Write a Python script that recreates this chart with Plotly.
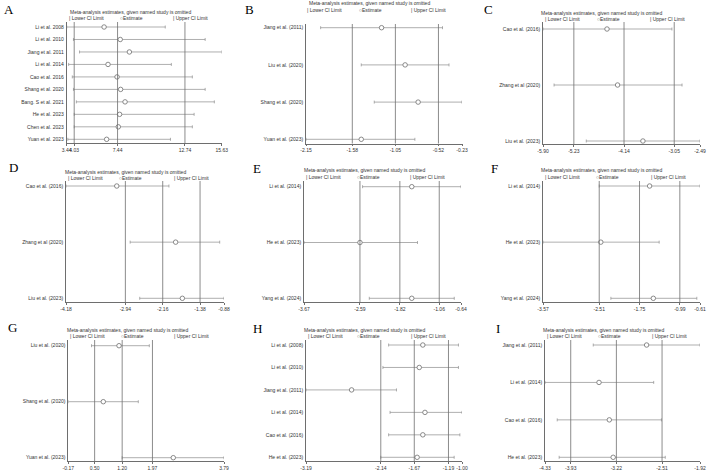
import plotly.graph_objects as go

W, H = 708, 470

# ---------------- data ----------------
A_studies = ["Li et al. 2008", "Li et al. 2010", "Jiang et al. 2011", "Li et al. 2014", "Cao et al. 2016",
             "Shang et al. 2020", "Bang. S et al. 2021", "He et al. 2023", "Chen et al. 2023", "Yuan et al. 2023"]
A_lower = [3.44, 3.97, 4.45, 3.59, 3.88, 3.97, 4.20, 4.03, 4.03, 3.53]
A_est = [6.38, 7.65, 8.37, 6.69, 7.40, 7.68, 8.03, 7.60, 7.50, 6.58]
A_upper = [11.19, 14.33, 15.63, 11.67, 13.32, 14.33, 15.05, 13.46, 13.32, 11.60]
A_pooled = [4.03, 7.44, 12.74]

B_studies = ["Jiang et al. (2011)", "Liu et al. (2020)", "Shang et al. (2020)", "Yuan et al. (2023)"]
B_lower = [-1.97, -1.47, -1.31, -2.15]
B_est = [-1.22, -0.93, -0.77, -1.47]
B_upper = [-0.47, -0.39, -0.23, -0.81]
B_pooled = [-1.58, -1.05, -0.52]

C_studies = ["Cao et al. (2016)", "Zhang et al (2020)", "Liu et al. (2023)"]
C_lower = [-5.90, -5.66, -4.96]
C_est = [-4.51, -4.28, -3.73]
C_upper = [-3.10, -2.88, -2.49]
C_pooled = [-5.23, -4.14, -3.05]

D_studies = ["Cao et al. (2016)", "Zhang et al (2020)", "Liu et al. (2023)"]
D_lower = [-4.18, -2.84, -2.64]
D_est = [-3.12, -1.89, -1.75]
D_upper = [-2.03, -0.97, -0.88]
D_pooled = [-2.94, -2.16, -1.38]

E_studies = ["Li et al. (2014)", "He et al. (2023)", "Yang et al. (2024)"]
E_lower = [-2.54, -3.67, -2.41]
E_est = [-1.59, -2.59, -1.59]
E_upper = [-0.64, -1.48, -0.77]
E_pooled = [-2.59, -1.82, -1.06]

F_studies = ["Li et al. (2014)", "He et al. (2023)", "Yang et al. (2024)"]
F_lower = [-2.51, -3.57, -2.29]
F_est = [-1.56, -2.48, -1.49]
F_upper = [-0.61, -1.38, -0.67]
F_pooled = [-2.51, -1.75, -0.99]

G_studies = ["Liu et al. (2020)", "Shang et al. (2020)", "Yuan et al. (2023)"]
G_lower = [0.42, -0.17, 1.20]
G_est = [1.12, 0.72, 2.50]
G_upper = [1.89, 1.61, 3.79]
G_pooled = [0.50, 1.20, 1.97]

H_studies = ["Li et al. (2008)", "Li et al. (2010)", "Jiang et al. (2011)", "Li et al. (2014)",
             "Cao et al. (2016)", "He et al. (2023)"]
H_lower = [-2.03, -2.11, -3.19, -2.01, -2.03, -2.14]
H_est = [-1.55, -1.60, -2.55, -1.52, -1.55, -1.63]
H_upper = [-1.05, -1.05, -1.92, -1.00, -1.03, -1.11]
H_pooled = [-2.14, -1.67, -1.19]

I_studies = ["Jiang et al. (2011)", "Li et al. (2014)", "Cao et al. (2016)", "He et al. (2023)"]
I_lower = [-3.58, -4.33, -4.14, -4.11]
I_est = [-2.75, -3.49, -3.33, -3.27]
I_upper = [-1.92, -2.64, -2.52, -2.46]
I_pooled = [-3.93, -3.22, -2.51]

TITLE = "Meta-analysis estimates, given named study is omitted"
LEGEND = ["| Lower CI Limit", "\u25cbEstimate", "| Upper CI Limit"]

panels = [
    ("A", A_studies, A_lower, A_est, A_upper, A_pooled),
    ("B", B_studies, B_lower, B_est, B_upper, B_pooled),
    ("C", C_studies, C_lower, C_est, C_upper, C_pooled),
    ("D", D_studies, D_lower, D_est, D_upper, D_pooled),
    ("E", E_studies, E_lower, E_est, E_upper, E_pooled),
    ("F", F_studies, F_lower, F_est, F_upper, F_pooled),
    ("G", G_studies, G_lower, G_est, G_upper, G_pooled),
    ("H", H_studies, H_lower, H_est, H_upper, H_pooled),
    ("I", I_studies, I_lower, I_est, I_upper, I_pooled),
]

# ---------------- layout geometry (pixels) ----------------
geom = {
    "A": dict(left=66.7, right=221.7, top=22, bot=143.3, r1=27, rn=139.3, ty=12.3, ly=18.5, tx=130, lx=(67, 118, 171), let=(2, 3)),
    "B": dict(left=306, right=462, top=24, bot=143.5, r1=27.7, rn=139.3, ty=3.5, ly=9.7, tx=369.5, lx=(305, 357, 409), let=(243, 3)),
    "C": dict(left=543, right=700, top=22, bot=144, r1=29, rn=141, ty=12.8, ly=19, tx=601, lx=(543, 595, 648), let=(482, 3)),
    "D": dict(left=66, right=224, top=181, bot=302, r1=186, rn=298.3, ty=171.7, ly=177.9, tx=125, lx=(66, 117, 172), let=(7, 161)),
    "E": dict(left=304, right=461, top=181, bot=302, r1=186.7, rn=298.3, ty=170.3, ly=176.5, tx=364.5, lx=(304, 355, 408), let=(251, 162)),
    "F": dict(left=543, right=700, top=181, bot=302, r1=186, rn=298.3, ty=170.3, ly=176.5, tx=601.5, lx=(543, 594, 649), let=(489, 162)),
    "G": dict(left=68.3, right=224, top=340, bot=461, r1=345.7, rn=457.7, ty=329.8, ly=336, tx=127.5, lx=(68, 119, 172), let=(6, 321)),
    "H": dict(left=306, right=462, top=340, bot=461, r1=345, rn=457.3, ty=329.8, ly=336, tx=364, lx=(306, 355, 409), let=(251, 322)),
    "I": dict(left=545, right=700, top=340, bot=461, r1=345, rn=457.3, ty=329.8, ly=336, tx=603.5, lx=(545, 596, 650), let=(494, 322)),
}

FONT = "Liberation Sans, Arial, sans-serif"
SMALL = 5
AXCOL = "#6e6e6e"
BARCOL = "#8c8c8c"
TXTCOL = "#333333"

fig = go.Figure()
annotations = []
shapes = []
layout_axes = {}

def px_x(p):
    return p / W

def px_y(p):
    return 1 - p / H

for idx, (letter, studies, lower, est, upper, pooled) in enumerate(panels, start=1):
    g = geom[letter]
    sfx = "" if idx == 1 else str(idx)
    xa, ya = "x" + sfx, "y" + sfx
    n = len(studies)
    rows = list(range(1, n + 1))
    s = (g["rn"] - g["r1"]) / (n - 1)
    y_top = 1 + (g["top"] - g["r1"]) / s
    y_bot = 1 + (g["bot"] - g["r1"]) / s

    xmin, xmax = min(lower), max(upper)
    tickvals = [xmin] + list(pooled) + [xmax]
    ticktext = ["%.2f" % v for v in tickvals]

    fig.add_trace(go.Scatter(
        x=est, y=rows, mode="markers", xaxis=xa, yaxis=ya, showlegend=False,
        marker=dict(symbol="circle", size=4.5, color="white", line=dict(color=AXCOL, width=0.8)),
        error_x=dict(type="data", symmetric=False,
                     array=[u - e for u, e in zip(upper, est)],
                     arrayminus=[e - l for e, l in zip(est, lower)],
                     width=1.5, thickness=0.7, color=BARCOL),
        cliponaxis=False,
    ))

    layout_axes["xaxis" + sfx] = dict(
        domain=[px_x(g["left"]), px_x(g["right"])], anchor=ya,
        range=[xmin, xmax], tickvals=tickvals, ticktext=ticktext, tickangle=0,
        showgrid=False, zeroline=False, showline=True, linecolor=AXCOL, linewidth=0.8,
        ticks="outside", ticklen=2, tickwidth=0.7, tickcolor=AXCOL,
        tickfont=dict(family=FONT, size=SMALL, color=TXTCOL), automargin=False,
    )
    layout_axes["yaxis" + sfx] = dict(
        domain=[px_y(g["bot"]), px_y(g["top"])], anchor=xa,
        range=[y_bot, y_top], tickvals=rows, ticktext=studies,
        showgrid=False, zeroline=False, showline=True, linecolor=AXCOL, linewidth=0.8,
        ticks="", ticklabelstandoff=1,
        tickfont=dict(family=FONT, size=SMALL, color=TXTCOL), automargin=False,
    )

    for v in pooled:
        shapes.append(dict(type="line", xref=xa, yref=ya + " domain", x0=v, x1=v, y0=0, y1=1,
                           line=dict(color=AXCOL, width=0.8)))

    annotations.append(dict(text=letter, xref="paper", yref="paper",
                            x=px_x(g["let"][0]), y=px_y(g["let"][1] - 3),
                            xanchor="left", yanchor="top", showarrow=False,
                            font=dict(family="Liberation Serif, Times New Roman, serif", size=13, color="black")))
    annotations.append(dict(text=TITLE, xref="paper", yref="paper",
                            x=px_x(g["tx"]), y=px_y(g["ty"]), xanchor="center", yanchor="middle",
                            showarrow=False, font=dict(family=FONT, size=SMALL, color=TXTCOL)))
    for lx, lt in zip(g["lx"], LEGEND):
        annotations.append(dict(text=lt, xref="paper", yref="paper",
                                x=px_x(lx), y=px_y(g["ly"]), xanchor="left", yanchor="middle",
                                showarrow=False, font=dict(family=FONT, size=SMALL, color=TXTCOL)))

fig.update_layout(
    width=W, height=H, margin=dict(l=0, r=0, t=0, b=0),
    paper_bgcolor="white", plot_bgcolor="white",
    showlegend=False, annotations=annotations, shapes=shapes,
    **layout_axes,
)

fig.write_html("out.html")
